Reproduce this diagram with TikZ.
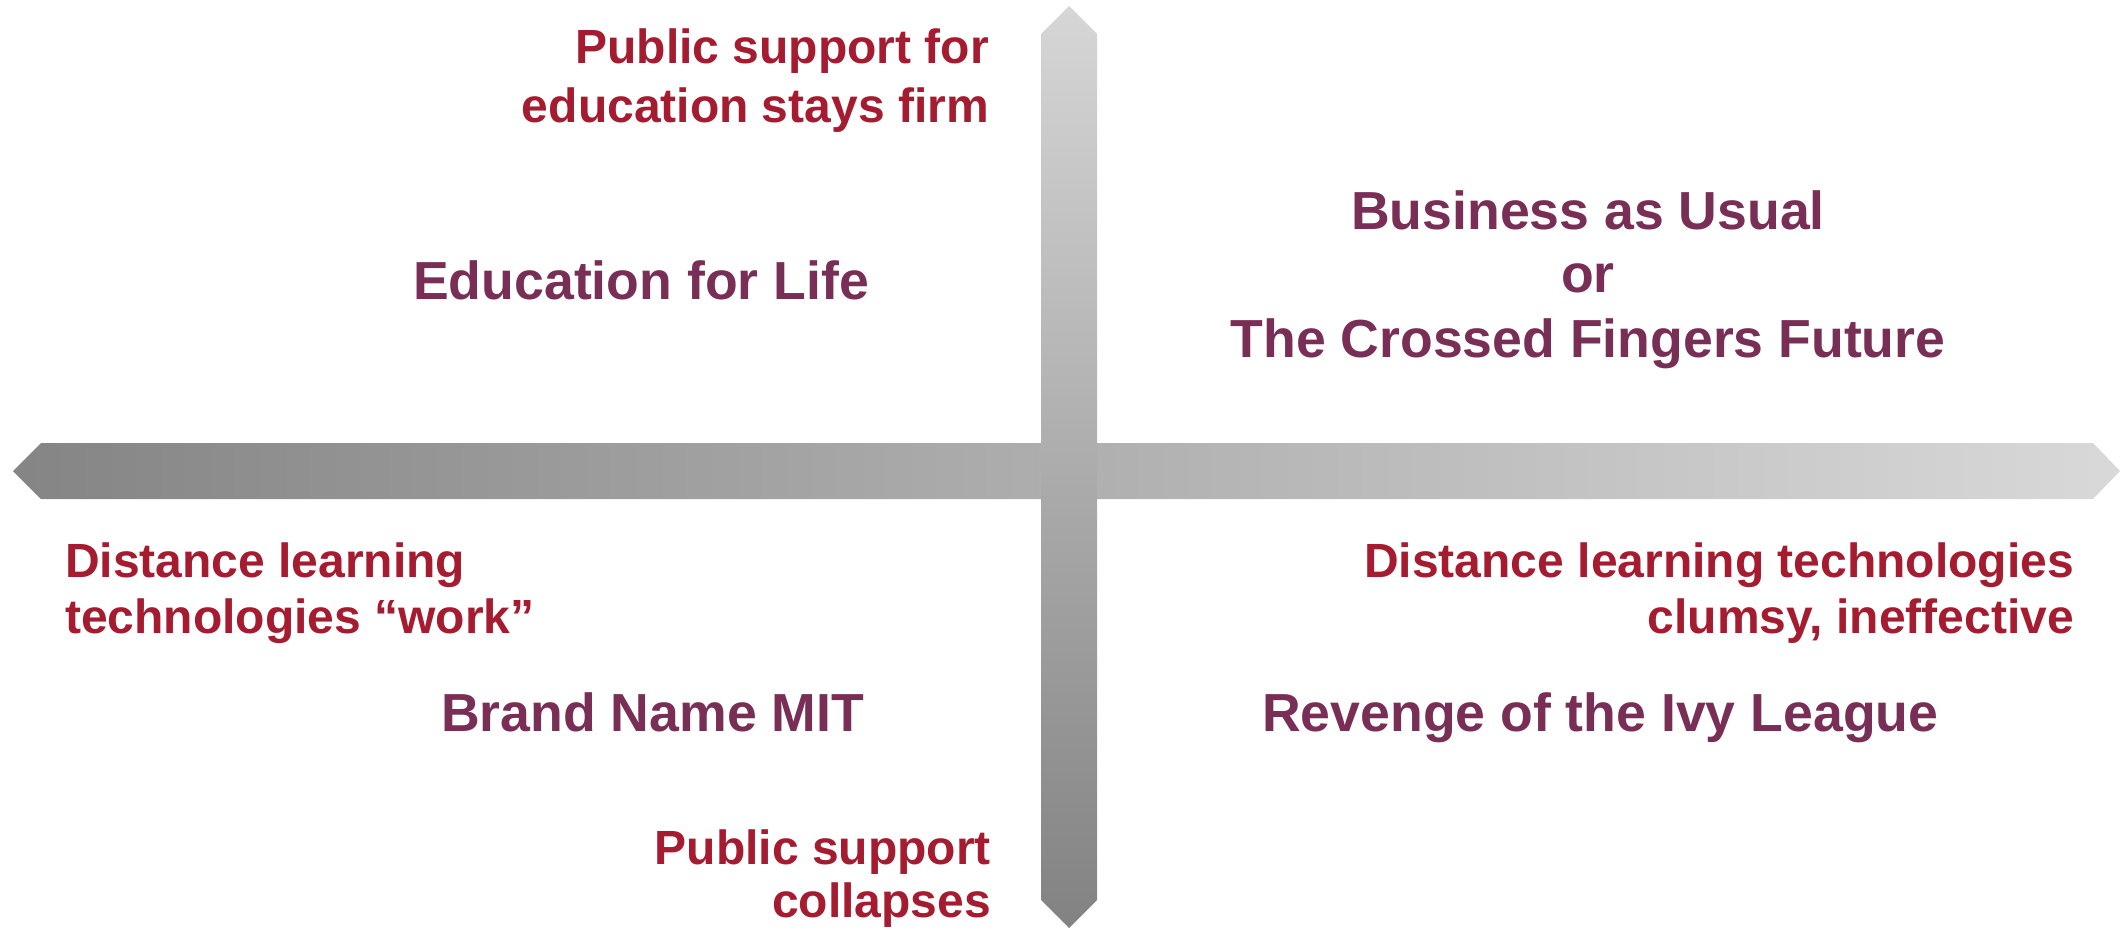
\documentclass[tikz,border=0pt]{standalone}
\usepackage{fontspec}
\setmainfont{Liberation Sans}
\definecolor{axred}{HTML}{A51C30}
\definecolor{scpurple}{HTML}{782E55}
\tikzset{
  axlabel/.style={inner sep=0pt, text=axred, font=\fontsize{48bp}{58bp}\selectfont\bfseries},
  sclabel/.style={inner sep=0pt, text=scpurple, font=\fontsize{53.6bp}{64bp}\selectfont\bfseries},
}
\begin{document}
\begin{tikzpicture}[x=1bp,y=-1bp]
\useasboundingbox (0,0) rectangle (2121,930);
% horizontal axis arrow
\shade[left color=black!48, right color=black!15]
  (13,471) -- (41,443) -- (2093,443) -- (2120,471) -- (2093,499) -- (41,499) -- cycle;
% vertical axis arrow
\shade[top color=black!16, bottom color=black!49]
  (1069,6) -- (1097,34) -- (1097,900) -- (1069,928) -- (1041,900) -- (1041,34) -- cycle;
% axis labels
\node[axlabel, anchor=base east] (up1) at (989,63) {Public support for};
\node[axlabel, anchor=base east] (up2) at (989,122) {education stays firm};
\node[axlabel, anchor=base east] (dn1) at (991,864) {Public support};
\node[axlabel, anchor=base east] (dn2) at (991,917) {collapses};
\node[axlabel, anchor=base west] (lf1) at (65,577) {Distance learning};
\node[axlabel, anchor=base west] (lf2) at (65,633) {technologies “work”};
\node[axlabel, anchor=base east] (rt1) at (2074,577) {Distance learning technologies};
\node[axlabel, anchor=base east] (rt2) at (2074,633) {clumsy, ineffective};
% scenario labels
\node[sclabel, anchor=base west] (efl) at (413,299) {Education for Life};
\node[sclabel, anchor=base] (bau1) at (1588,229) {Business as Usual};
\node[sclabel, anchor=base] (bau2) at (1588,292) {or};
\node[sclabel, anchor=base] (bau3) at (1588,357) {The Crossed Fingers Future};
\node[sclabel, anchor=base west] (bnm) at (441,731) {Brand Name MIT};
\node[sclabel, anchor=base west] (ivy) at (1262,731) {Revenge of the Ivy League};
\end{tikzpicture}
\end{document}
